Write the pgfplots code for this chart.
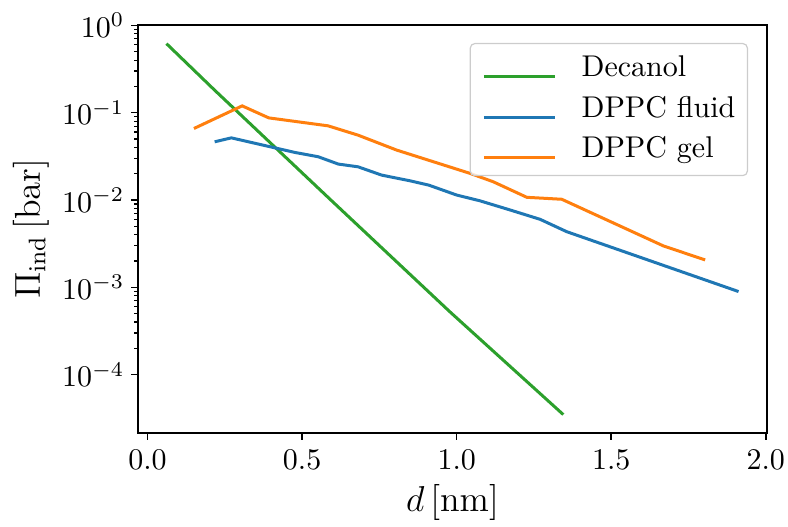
\documentclass[border=0pt]{standalone}
\usepackage{pgfplots}
\pgfplotsset{compat=1.18}
\definecolor{mplgreen}{HTML}{2CA02C}
\definecolor{mplblue}{HTML}{1F77B4}
\definecolor{mplorange}{HTML}{FF7F0E}
\begin{document}
\begin{tikzpicture}
\begin{axis}[
  name=ax,
  scale only axis, width=209.67pt, height=136pt,
  xmin=-0.031, xmax=2.004, ymin=2.15e-5, ymax=1.01, ymode=log,
  xtick={0,0.5,1,1.5,2},
  xticklabel style={/pgf/number format/.cd, fixed, fixed zerofill, precision=1},
  yticklabel style={xshift=1.3pt},
  ytick={1e-4,1e-3,1e-2,1e-1,1},
  tick align=outside, xtick pos=bottom, ytick pos=left,
  major tick length=2.33pt, minor tick length=1.33pt,
  axis line style={line width=0.53pt},
  every tick/.style={black, line width=0.53pt},
  every minor tick/.style={black, line width=0.4pt},
  xlabel={$d\,[\mathrm{nm}]$},
  ylabel={$\Pi_{\mathrm{ind}}\,[\mathrm{bar}]$},
  xlabel style={font=\large, at={(axis description cs:0.5,0)}, anchor=center, yshift=-23.3pt},
  ylabel style={font=\large, at={([xshift=-35.7pt]axis description cs:0,0.5)}, anchor=center},
  legend cell align=left,
  legend image code/.code={\draw[#1] (0pt,0pt) -- (23.7pt,0pt);},
  legend style={at={(1,1)}, anchor=north east, xshift=-6.33pt, yshift=-6pt,
    draw=black!20, line width=0.4pt, rounded corners=1.5pt, fill=white, fill opacity=0.8, text opacity=1,
    inner xsep=4pt, inner ysep=3.9pt, row sep=4.6pt, column sep=8.4pt,
    nodes={inner sep=0pt, text height=7pt, text depth=2pt, anchor=base west}},
]
\addplot[mplgreen, line width=1pt] coordinates {
(0.061,0.618) (0.217,0.181) (0.59,0.01023) (0.978,5.25e-4) (1.345,3.49e-5)
};
\addlegendentry{Decanol}
\addplot[mplblue, line width=1pt] coordinates {
(0.217,0.0464) (0.271,0.0515) (0.476,0.0351) (0.552,0.0313) (0.617,0.0258)
(0.681,0.0240) (0.757,0.0193) (0.849,0.0166) (0.910,0.0148) (1.000,0.0114)
(1.075,0.0098) (1.173,0.00769) (1.270,0.00601) (1.356,0.00434) (1.912,0.000895)
};
\addlegendentry{DPPC fluid}
\addplot[mplorange, line width=1pt] coordinates {
(0.150,0.0659) (0.306,0.1197) (0.392,0.0872) (0.584,0.0707) (0.681,0.0553)
(0.806,0.0373) (1.043,0.0202) (1.118,0.0162) (1.227,0.01074) (1.340,0.0102)
(1.669,0.00298) (1.804,0.00206)
};
\addlegendentry{DPPC gel}
\end{axis}
\pgfresetboundingbox
\path ([xshift=-46pt,yshift=-31.33pt]ax.south west) rectangle ([xshift=7pt,yshift=8.33pt]ax.north east);
\end{tikzpicture}
\end{document}
